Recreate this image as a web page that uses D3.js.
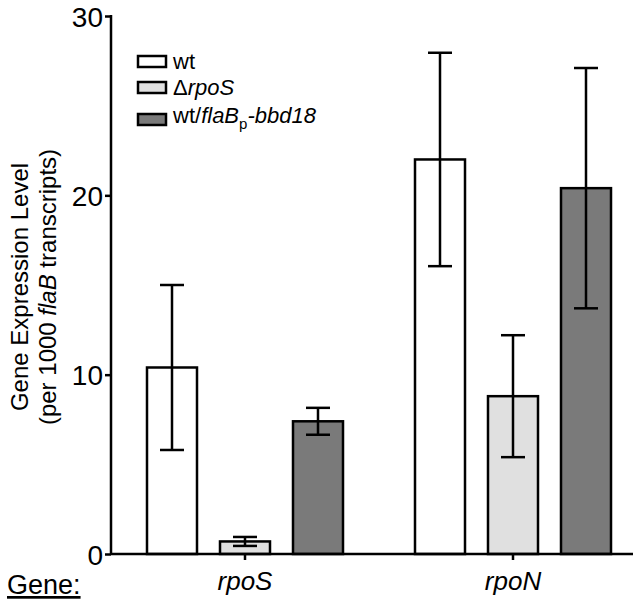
<!DOCTYPE html>
<meta charset="utf-8">
<style>
body { margin: 0; background: #fff; }
svg text { font-family: "Liberation Sans", Arial, sans-serif; fill: #000; }
.axis path, .axis line { stroke: #000; stroke-width: 2.5; fill: none; }
</style>
<svg class="chart" width="641" height="602"></svg>
<script src="https://cdn.jsdelivr.net/npm/d3@7"></script>
<script>

var genes = ["rpoS", "rpoN"];
var strains = ["wt", "ΔrpoS", "wt/flaBp-bbd18"];
var means = {
  "wt":             [10.4, 22.0],
  "ΔrpoS":          [0.7, 8.8],
  "wt/flaBp-bbd18": [7.4, 20.4]
};
var errs = {
  "wt":             [4.6, 5.95],
  "ΔrpoS":          [0.25, 3.4],
  "wt/flaBp-bbd18": [0.75, 6.7]
};
var yTicks = [0, 10, 20, 30];
var fills = ["#ffffff", "#e0e0e0", "#7a7a7a"];

var plotLeft = 111, plotRight = 633, plotTop = 16, plotBottom = 554;

var svg = d3.select(".chart");

var x = d3.scalePoint().domain(genes).range([245, 513]);
var xs = d3.scaleBand().domain(strains).range([-98, 98]).paddingInner(0.315).paddingOuter(0);
var y = d3.scaleLinear().domain([0, 30]).range([plotBottom, plotTop]);

var rows = [];
genes.forEach(function(g, gi) {
  strains.forEach(function(s, si) {
    rows.push({gene: g, strain: s, si: si, v: means[s][gi], e: errs[s][gi]});
  });
});

// bars
svg.append("g").selectAll("rect")
  .data(rows).enter().append("rect")
    .attr("x", function(d) { return x(d.gene) + xs(d.strain); })
    .attr("y", function(d) { return y(d.v); })
    .attr("width", xs.bandwidth())
    .attr("height", function(d) { return y(0) - y(d.v); })
    .attr("fill", function(d) { return fills[d.si]; })
    .attr("stroke", "#000")
    .attr("stroke-width", 2.5);

// error bars
var eb = svg.append("g").attr("stroke", "#000").attr("stroke-width", 2.5);
rows.forEach(function(d) {
  var cx = x(d.gene) + xs(d.strain) + xs.bandwidth() / 2;
  eb.append("line").attr("x1", cx).attr("x2", cx).attr("y1", y(d.v + d.e)).attr("y2", y(d.v - d.e));
  [d.v + d.e, d.v - d.e].forEach(function(t) {
    eb.append("line").attr("x1", cx - 12).attr("x2", cx + 12).attr("y1", y(t)).attr("y2", y(t));
  });
});

// y axis
var yAxis = svg.append("g")
  .attr("class", "axis")
  .attr("transform", "translate(" + plotLeft + ",0)")
  .call(d3.axisLeft(y).tickValues(yTicks).tickSize(6).tickSizeOuter(0).tickPadding(2));
yAxis.select(".domain").attr("d", "M0," + (plotBottom + 1) + "V" + (plotTop - 1));
yAxis.selectAll("text").attr("dy", "0.36em").style("font-size", "28px")
  .style("font-family", "'Liberation Sans', Arial, sans-serif");

// x axis
svg.append("line")
  .attr("x1", plotLeft).attr("x2", plotRight).attr("y1", plotBottom).attr("y2", plotBottom)
  .attr("stroke", "#000").attr("stroke-width", 2.5);
svg.append("g").selectAll("line")
  .data(genes).enter().append("line")
    .attr("x1", function(d) { return x(d); }).attr("x2", function(d) { return x(d); })
    .attr("y1", plotBottom).attr("y2", plotBottom + 6)
    .attr("stroke", "#000").attr("stroke-width", 2.5);
svg.append("g").selectAll("text")
  .data(genes).enter().append("text")
    .attr("x", function(d) { return x(d); })
    .attr("y", 590)
    .attr("text-anchor", "middle")
    .style("font-size", "26px")
    .style("font-style", "italic")
    .text(function(d) { return d; });

svg.append("text")
  .attr("x", 7).attr("y", 594)
  .style("font-size", "27px")
  .style("text-decoration", "underline")
  .text("Gene:");

// y label
var yl = svg.append("text")
  .attr("transform", "translate(0,287) rotate(-90)")
  .attr("text-anchor", "middle")
  .style("font-size", "24px");
yl.append("tspan").attr("x", 0).attr("y", 28).text("Gene Expression Level");
var t2 = yl.append("tspan").attr("x", 0).attr("y", 56);
t2.text("(per 1000 ");
yl.append("tspan").style("font-style", "italic").text("flaB");
yl.append("tspan").text(" transcripts)");

// legend
var legY = [61.5, 87.5, 119.5];
var leg = svg.append("g");
strains.forEach(function(s, i) {
  leg.append("rect")
    .attr("x", 138).attr("y", legY[i] - 5.5).attr("width", 28).attr("height", 11)
    .attr("fill", fills[i]).attr("stroke", "#000").attr("stroke-width", 2.5);
});
var lt = leg.append("g").style("font-size", "22px");
lt.append("text").attr("x", 173).attr("y", legY[0] + 7).text("wt");
var l2 = lt.append("text").attr("x", 173).attr("y", legY[1] + 7);
l2.append("tspan").text("Δ");
l2.append("tspan").style("font-style", "italic").text("rpoS");
var l3 = lt.append("text").attr("x", 173).attr("y", legY[2] + 3);
l3.append("tspan").text("wt/");
l3.append("tspan").style("font-style", "italic").text("flaB");
l3.append("tspan").attr("dy", 6).style("font-size", "15px").text("p");
l3.append("tspan").attr("dy", -6).style("font-style", "italic").text("-bbd18");

</script>
